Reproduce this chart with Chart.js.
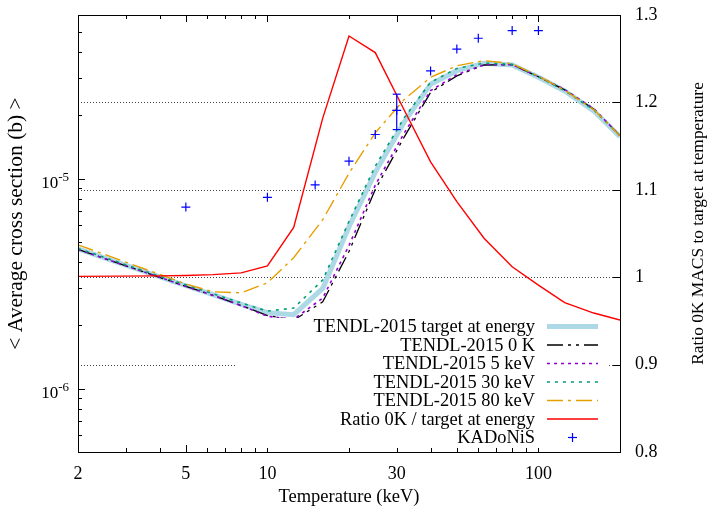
<!DOCTYPE html>
<html>
<head>
<meta charset="utf-8">
<script src="https://cdn.jsdelivr.net/npm/chart.js@4.4.0/dist/chart.umd.min.js"></script>
<style>
html, body { margin: 0; padding: 0; background: #fff; }
#wrap { width: 708px; height: 508px; }
</style>
</head>
<body>
<div id="wrap"><canvas id="chart" width="708" height="508"></canvas></div>
<script>
// ================= DATA =================
const temps = [2, 4, 5, 6.3, 8, 10, 12.5, 16, 20, 25, 32, 40, 50, 63, 80, 100, 125, 160, 200];

const targetAtEnergy = [4.63e-6, 3.41e-6, 3.09e-6, 2.80e-6, 2.52e-6, 2.30e-6, 2.25e-6, 3.0e-6, 5.9e-6, 1.07e-5, 1.86e-5, 2.81e-5, 3.26e-5, 3.54e-5, 3.47e-5, 3.03e-5, 2.61e-5, 2.10e-5, 1.58e-5];
const tendl0K = [4.60e-6, 3.39e-6, 3.07e-6, 2.78e-6, 2.49e-6, 2.23e-6, 2.12e-6, 2.59e-6, 4.5e-6, 8.86e-6, 1.58e-5, 2.57e-5, 3.08e-5, 3.47e-5, 3.48e-5, 3.05e-5, 2.64e-5, 2.14e-5, 1.60e-5];
const tendl5keV = [4.60e-6, 3.39e-6, 3.07e-6, 2.78e-6, 2.49e-6, 2.21e-6, 2.14e-6, 2.70e-6, 4.8e-6, 9.3e-6, 1.65e-5, 2.62e-5, 3.12e-5, 3.48e-5, 3.48e-5, 3.06e-5, 2.65e-5, 2.15e-5, 1.60e-5];
const tendl30keV = [4.65e-6, 3.43e-6, 3.12e-6, 2.83e-6, 2.56e-6, 2.34e-6, 2.42e-6, 3.29e-6, 6.25e-6, 1.145e-5, 1.95e-5, 2.87e-5, 3.34e-5, 3.54e-5, 3.50e-5, 3.05e-5, 2.62e-5, 2.12e-5, 1.60e-5];
const tendl80keV = [4.84e-6, 3.50e-6, 3.15e-6, 2.89e-6, 2.86e-6, 3.19e-6, 4.2e-6, 6.37e-6, 1.06e-5, 1.65e-5, 2.38e-5, 3.03e-5, 3.44e-5, 3.64e-5, 3.52e-5, 3.07e-5, 2.63e-5, 2.13e-5, 1.60e-5];
const ratio0K = [1.001, 1.0015, 1.002, 1.003, 1.005, 1.013, 1.057, 1.182, 1.276, 1.257, 1.191, 1.132, 1.0865, 1.0446, 1.012, 0.991, 0.971, 0.959, 0.951];

const kadTemps = [5, 10, 15, 20, 25, 30, 40, 50, 60, 80, 100];
const kadValues = [7.32e-6, 8.14e-6, 9.33e-6, 1.21e-5, 1.62e-5, 2.11e-5, 3.25e-5, 4.13e-5, 4.65e-5, 5.06e-5, 5.06e-5];
const kadErrTemp = 30;
const kadErrLow = 1.71e-5;
const kadErrHigh = 2.52e-5;

const xLabelTicks = [2, 5, 10, 30, 100];
const xMinorTicks = [3, 4, 6, 7, 8, 9, 20, 40, 50, 60, 70, 80, 90, 200];
const yMajorTicks = [1e-6, 1e-5];
const yMinorTicks = [6e-7, 7e-7, 8e-7, 9e-7, 2e-6, 3e-6, 4e-6, 5e-6, 6e-6, 7e-6, 8e-6, 9e-6, 2e-5, 3e-5, 4e-5, 5e-5];
const ratioTicks = [0.8, 0.9, 1.0, 1.1, 1.2, 1.3];
const ratioGrid = [0.9, 1.0, 1.1, 1.2];

const FONT = "'Liberation Serif', 'DejaVu Serif', serif";

const pts = (xs, ys) => xs.map((x, i) => ({ x: x, y: ys[i] }));

// ================= DATASETS =================
const datasets = [
    {
        label: "TENDL-2015 target at energy",
        data: pts(temps, targetAtEnergy),
        borderColor: "#add8e6", borderWidth: 5, order: 10
    },
    {
        label: "TENDL-2015 0 K",
        data: pts(temps, tendl0K),
        borderColor: "#000000", borderWidth: 1.3, borderDash: [16, 5, 3, 5, 3, 5], order: 9
    },
    {
        label: "TENDL-2015 5 keV",
        data: pts(temps, tendl5keV),
        borderColor: "#9400d3", borderWidth: 1.6, borderDash: [3, 4], order: 8
    },
    {
        label: "TENDL-2015 30 keV",
        data: pts(temps, tendl30keV),
        borderColor: "#009e73", borderWidth: 1.6, borderDash: [3, 5], order: 7
    },
    {
        label: "TENDL-2015 80 keV",
        data: pts(temps, tendl80keV),
        borderColor: "#e69f00", borderWidth: 1.4, borderDash: [16, 5, 3, 5], order: 6
    },
    {
        label: "Ratio 0K / target at energy",
        data: pts(temps, ratio0K),
        borderColor: "#ff0000", borderWidth: 1.4, yAxisID: "y2", order: 5
    },
    {
        label: "KADoNiS",
        data: pts(kadTemps, kadValues),
        borderColor: "#0000ff", showLine: false,
        pointStyle: "cross", pointRadius: 4.5, pointBorderWidth: 1.2, order: 4
    },
    {
        label: "err",
        data: [{ x: kadErrTemp, y: kadErrLow }, { x: kadErrTemp, y: kadErrHigh }],
        borderColor: "#0000ff", borderWidth: 1.2,
        pointStyle: "line", pointRadius: 4, pointBorderWidth: 1.2, order: 3
    }
];

datasets.forEach(d => {
    d.fill = false;
    d.tension = 0;
    d.backgroundColor = d.borderColor;
    if (d.pointRadius === undefined) d.pointRadius = 0;
    if (!d.yAxisID) d.yAxisID = "y";
});

// ================= FRAME / TICKS / LEGEND =================
function seg(ctx, x1, y1, x2, y2) {
    ctx.beginPath();
    ctx.moveTo(x1, y1);
    ctx.lineTo(x2, y2);
    ctx.stroke();
}

// font size that makes a text about the given width
function fitFont(ctx, text, width) {
    ctx.font = "20px " + FONT;
    const size = 20 * width / ctx.measureText(text).width;
    return size.toFixed(1) + "px " + FONT;
}

// vertical axes: no label overhang padding, chart area comes from layout padding
function noOverhang(s, w) {
    s.width = w;
    s.paddingTop = 0;
    s.paddingBottom = 0;
}

const framePlugin = {
    id: "frame",
    beforeDatasetsDraw(chart) {
        const { ctx, chartArea: a, scales } = chart;
        ctx.save();
        ctx.strokeStyle = "#444";
        ctx.lineWidth = 1;
        ctx.setLineDash([1, 2]);
        ratioGrid.forEach(r => {
            const y = Math.round(scales.y2.getPixelForValue(r)) + 0.5;
            seg(ctx, a.left, y, a.right, y);
        });
        ctx.restore();
    },
    afterDatasetsDraw(chart) {
        const { ctx, chartArea: a, scales } = chart;
        ctx.save();
        ctx.strokeStyle = "#000";
        ctx.lineWidth = 1;

        // x ticks, bottom and mirrored top
        xLabelTicks.concat(xMinorTicks).forEach(v => {
            const len = xLabelTicks.includes(v) ? 7 : 4;
            const x = Math.round(scales.x.getPixelForValue(v)) + 0.5;
            seg(ctx, x, a.bottom, x, a.bottom - len);
            seg(ctx, x, a.top, x, a.top + len);
        });
        // left ticks
        yMajorTicks.concat(yMinorTicks).forEach(v => {
            const len = yMajorTicks.includes(v) ? 7 : 4;
            const y = Math.round(scales.y.getPixelForValue(v)) + 0.5;
            seg(ctx, a.left, y, a.left + len, y);
        });
        // right ticks
        ratioTicks.forEach(v => {
            const y = Math.round(scales.y2.getPixelForValue(v)) + 0.5;
            seg(ctx, a.right, y, a.right - 7, y);
        });

        // legend box
        const boxL = 237, boxR = a.right - 13, boxT = a.bottom - 134, boxB = a.bottom - 4;
        ctx.fillStyle = "#fff";
        ctx.fillRect(boxL, boxT, boxR - boxL, boxB - boxT);

        ctx.font = fitFont(ctx, datasets[0].label, 222);
        ctx.textAlign = "right";
        ctx.textBaseline = "middle";
        const textX = a.right - 85;
        const s1 = a.right - 73, s2 = a.right - 22;
        datasets.slice(0, 7).forEach((d, i) => {
            const y = a.bottom - 125.5 + i * 18.5;
            ctx.fillStyle = "#000";
            ctx.fillText(d.label, textX, y + 1);
            ctx.strokeStyle = d.borderColor;
            if (d.showLine === false) {
                ctx.lineWidth = d.pointBorderWidth;
                const cx = (s1 + s2) / 2, r = d.pointRadius;
                seg(ctx, cx - r, y, cx + r, y);
                seg(ctx, cx, y - r, cx, y + r);
            } else {
                ctx.lineWidth = d.borderWidth;
                ctx.setLineDash(d.borderDash || []);
                seg(ctx, s1, y, s2, y);
                ctx.setLineDash([]);
            }
        });

        // frame
        ctx.strokeStyle = "#000";
        ctx.lineWidth = 1;
        ctx.strokeRect(Math.round(a.left) + 0.5, Math.round(a.top) + 0.5,
            Math.round(a.right - a.left), Math.round(a.bottom - a.top));
        ctx.restore();
    },
    afterDraw(chart) {
        const { ctx, chartArea: a, scales } = chart;
        ctx.save();
        ctx.fillStyle = "#000";

        // left tick labels with superscript exponent
        yMajorTicks.forEach(v => {
            const y = scales.y.getPixelForValue(v);
            const exp = String(Math.round(Math.log10(v)));
            ctx.font = "13px " + FONT;
            const ws = ctx.measureText(exp).width;
            ctx.font = "17px " + FONT;
            const wb = ctx.measureText("10").width;
            const xEnd = a.left - 9;
            ctx.textAlign = "left";
            ctx.textBaseline = "alphabetic";
            ctx.fillText("10", xEnd - ws - wb, y + 9);
            ctx.font = "13px " + FONT;
            ctx.fillText(exp, xEnd - ws, y + 2);
        });

        // axis titles
        ctx.textAlign = "center";
        ctx.textBaseline = "middle";
        const titleY = 223.5;
        ctx.font = fitFont(ctx, "Temperature (keV)", 141);
        ctx.fillText("Temperature (keV)", (a.left + a.right) / 2, 497);

        ctx.save();
        ctx.translate(16, titleY);
        ctx.rotate(-Math.PI / 2);
        ctx.font = fitFont(ctx, "< Average cross section (b) >", 253);
        ctx.fillText("< Average cross section (b) >", 0, 0);
        ctx.restore();

        ctx.save();
        ctx.translate(698, titleY);
        ctx.rotate(-Math.PI / 2);
        ctx.font = fitFont(ctx, "Ratio 0K MACS to target at temperature", 283);
        ctx.fillText("Ratio 0K MACS to target at temperature", 0, 0);
        ctx.restore();

        ctx.restore();
    }
};

// ================= CHART =================
new Chart(document.getElementById("chart"), {
    type: "line",
    data: { datasets: datasets },
    options: {
        responsive: false,
        animation: false,
        devicePixelRatio: 1,
        layout: { padding: { top: 15, left: 0, right: 0, bottom: 0 } },
        plugins: {
            legend: { display: false },
            tooltip: { enabled: false }
        },
        scales: {
            x: {
                type: "logarithmic",
                position: "bottom",
                min: 2,
                max: 200,
                grid: { display: false, drawTicks: false },
                border: { display: false },
                afterBuildTicks: s => { s.ticks = xLabelTicks.map(v => ({ value: v })); },
                afterFit: s => { s.height = 56; s.paddingLeft = 0; s.paddingRight = 0; },
                ticks: {
                    autoSkip: false,
                    maxRotation: 0,
                    minRotation: 0,
                    padding: 11,
                    color: "#000",
                    font: { family: FONT, size: 18 },
                    callback: v => String(v)
                }
            },
            y: {
                type: "logarithmic",
                position: "left",
                min: 5e-7,
                max: 6e-5,
                grid: { display: false, drawTicks: false },
                border: { display: false },
                afterBuildTicks: s => { s.ticks = yMajorTicks.map(v => ({ value: v })); },
                afterFit: s => noOverhang(s, 78),
                ticks: { display: false }
            },
            y2: {
                type: "linear",
                position: "right",
                min: 0.8,
                max: 1.3,
                grid: { display: false, drawTicks: false },
                border: { display: false },
                afterBuildTicks: s => { s.ticks = ratioTicks.map(v => ({ value: v })); },
                afterFit: s => noOverhang(s, 88),
                ticks: {
                    padding: 15,
                    color: "#000",
                    font: { family: FONT, size: 18 },
                    callback: v => String(Math.round(v * 10) / 10)
                }
            }
        }
    },
    plugins: [framePlugin]
});
</script>
</body>
</html>
